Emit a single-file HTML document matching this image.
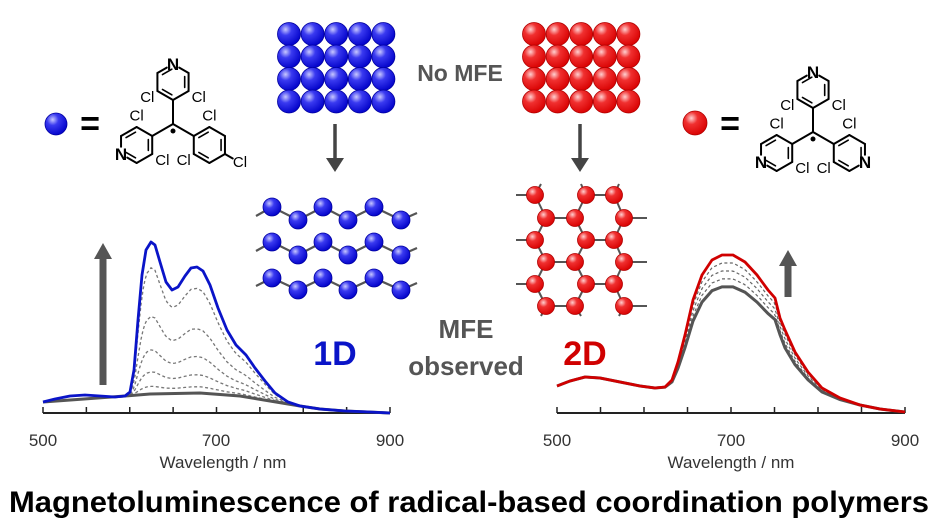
<!DOCTYPE html>
<html><head><meta charset="utf-8"><style>
html,body{margin:0;padding:0;background:#fff;width:939px;height:531px;overflow:hidden}
svg{display:block}
text{font-family:"Liberation Sans",sans-serif}
</style></head><body>
<svg id="s" width="939" height="531" viewBox="0 0 939 531" xmlns="http://www.w3.org/2000/svg">
<defs>
<radialGradient id="gb" cx="0.35" cy="0.3" r="0.75"><stop offset="0" stop-color="#c8c8ff"/><stop offset="0.35" stop-color="#3a3af0"/><stop offset="1" stop-color="#0000c8"/></radialGradient>
<radialGradient id="gr" cx="0.35" cy="0.3" r="0.75"><stop offset="0" stop-color="#ffd0d0"/><stop offset="0.35" stop-color="#f03030"/><stop offset="1" stop-color="#d80000"/></radialGradient>
</defs>
<g id="bg"></g>
<g id="fg"></g>
<text x="460" y="81" font-size="23" font-weight="bold" fill="#555" text-anchor="middle">No MFE</text>
<text x="466" y="338" font-size="26" font-weight="bold" fill="#555" text-anchor="middle">MFE</text>
<text x="466" y="375" font-size="26" font-weight="bold" fill="#555" text-anchor="middle">observed</text>
<text x="335" y="365" font-size="34" font-weight="bold" fill="#0a14c8" text-anchor="middle">1D</text>
<text x="585" y="365" font-size="34" font-weight="bold" fill="#d00000" text-anchor="middle">2D</text>
<text x="90" y="135" font-size="34" font-weight="bold" fill="#000" text-anchor="middle">=</text>
<text x="730" y="135" font-size="34" font-weight="bold" fill="#000" text-anchor="middle">=</text>
<g font-size="17" fill="#333" text-anchor="middle">
<text x="43" y="446">500</text><text x="216" y="446">700</text><text x="390" y="446">900</text>
<text x="223" y="468">Wavelength / nm</text>
<text x="557" y="446">500</text><text x="731" y="446">700</text><text x="905" y="446">900</text>
<text x="731" y="468">Wavelength / nm</text>
</g>
<text x="469" y="512" font-size="30" font-weight="bold" fill="#000" text-anchor="middle" textLength="920" lengthAdjust="spacingAndGlyphs">Magnetoluminescence of radical-based coordination polymers</text>
</svg>
<script>
(function(){
var NS="http://www.w3.org/2000/svg";
var bg=document.getElementById('bg'),fg=document.getElementById('fg');
function el(p,t,a,txt){var e=document.createElementNS(NS,t);for(var k in a)e.setAttribute(k,a[k]);if(txt)e.textContent=txt;p.appendChild(e);return e;}
function ball(x,y,r,c){el(fg,'circle',{cx:x,cy:y,r:r,fill:'url(#g'+c+')',stroke:c=='b'?'#0000a0':'#b00000','stroke-width':0.8});}
function line(x1,y1,x2,y2,w,c){el(bg,'line',{x1:x1,y1:y1,x2:x2,y2:y2,stroke:c||'#555','stroke-width':w||2});}
var rows=[34,56.5,79,101.5];
for(var i=0;i<5;i++)for(var j=0;j<4;j++){ball(289+i*23.6,rows[j],11.5,'b');ball(534+i*23.6,rows[j],11.5,'r');}
ball(56,124,11,'b');ball(695,123,12,'r');
function darrow(x,y1,y2){line(x,y1,x,y2-10,3.5,'#444');el(fg,'polygon',{points:(x-9)+','+(y2-14)+' '+(x+9)+','+(y2-14)+' '+x+','+y2,fill:'#444'});}
darrow(335,124,172);darrow(580,124,172);
function uarrow(x,y1,y2,hw){el(fg,'rect',{x:x-3.5,y:y2+15,width:7,height:y1-y2-15,fill:'#555'});el(fg,'polygon',{points:(x-hw)+','+(y2+16)+' '+(x+hw)+','+(y2+16)+' '+x+','+y2,fill:'#555'});}
uarrow(103,385,243,9);uarrow(788,297,250,9);
var xs=[272,298,323,348,374,401];
[[207,220],[242,255],[278,290]].forEach(function(r){
 var pts=[[256,r[1]-4]];xs.forEach(function(x,k){pts.push([x,k%2?r[1]:r[0]]);});pts.push([417,r[1]-7]);
 el(bg,'polyline',{points:pts.map(function(p){return p.join(',')}).join(' '),fill:'none',stroke:'#555','stroke-width':2.2});
 xs.forEach(function(x,k){ball(x,k%2?r[1]:r[0],9,'b');});
});
var A=[535,586,614],B=[546,575,624],ry=[195,218,240,262,284,306];
for(var k=0;k<6;k++){var odd=k%2==0;var X=odd?A:B;
 if(odd){line(516,ry[k],535,ry[k]);line(586,ry[k],614,ry[k]);} else {line(546,ry[k],575,ry[k]);line(624,ry[k],647,ry[k]);}
 if(k<5){var Y=odd?B:A;for(var m=0;m<3;m++)line(X[m],ry[k],Y[m],ry[k+1]);}
}
line(535,195,541,184);line(586,195,581,184);line(614,195,619,184);
line(546,306,541,316);line(575,306,581,316);line(624,306,619,316);
for(var k=0;k<6;k++){var X=k%2==0?A:B;X.forEach(function(x){ball(x,ry[k],8.5,'r');});}
function axis(x0,x1,y){line(x0,y,x1,y,2,'#222');for(var t=0;t<=8;t++){var x=x0+(x1-x0)*t/8;line(x,y,x,y-6,1.5,'#222');}}
axis(43,390,413);axis(557,905,413);
function interp(P,x){for(var i=0;i<P.length-1;i++){if(x>=P[i][0]&&x<=P[i+1][0]){var t=(x-P[i][0])/(P[i+1][0]-P[i][0]);return P[i][1]+t*(P[i+1][1]-P[i][1]);}}return P[P.length-1][1];}
function path(P){return 'M'+P.map(function(p){return p[0].toFixed(1)+','+p[1].toFixed(1)}).join(' L');}
var blue=[[43,402],[55,399],[70,396],[85,395],[100,396],[115,397],[125,396],[130,392],[134,370],[138,320],[142,275],[146,250],[151,242],[155,245],[160,262],[166,282],[172,290],[178,287],[185,276],[191,268],[197,267],[203,271],[210,285],[218,308],[227,330],[236,345],[246,355],[255,368],[265,381],[275,393],[288,402],[300,406],[320,409],[345,411],[370,412],[390,413]];
var base1=[[43,402],[125,396],[150,394],[200,393],[240,396],[270,401],[300,406],[320,409],[345,411],[390,413]];
[0.05,0.145,0.29,0.51,0.83].forEach(function(f){var P=[];for(var x=125;x<=345;x+=2){var b=interp(base1,x),u=interp(blue,x);P.push([x,b+f*(u-b)]);}
 el(bg,'path',{d:path(P),fill:'none',stroke:'#777','stroke-width':1.3,'stroke-dasharray':'3,2.5'});});
el(bg,'path',{d:path(base1),fill:'none',stroke:'#555','stroke-width':3});
el(bg,'path',{d:path(blue),fill:'none',stroke:'#0a14c8','stroke-width':2.8,'stroke-linejoin':'round'});
var red=[[557,386],[570,381],[585,377],[600,378],[620,382],[640,386],[655,388],[665,387],[672,380],[678,362],[685,335],[693,300],[702,275],[712,260],[722,255],[733,255],[745,262],[757,275],[768,290],[775,298],[780,318],[785,330],[795,352],[808,372],[822,388],[840,398],[860,405],[880,409],[905,412]];
var base2=[];red.forEach(function(p){var y=p[1];if(p[0]>660&&p[0]<860)y=Math.max(y,388+0.76*(y-388)+ (p[0]>780?4:0));base2.push([p[0],Math.min(413,y)]);});
[0.25,0.5,0.75].forEach(function(f){var P=[];for(var x=660;x<=860;x+=2){var b=interp(base2,x),u=interp(red,x);P.push([x,b+f*(u-b)]);}
 el(bg,'path',{d:path(P),fill:'none',stroke:'#666','stroke-width':1.2,'stroke-dasharray':'3,2.5'});});
el(bg,'path',{d:path(base2),fill:'none',stroke:'#555','stroke-width':3});
el(bg,'path',{d:path(red),fill:'none',stroke:'#d00000','stroke-width':2.8,'stroke-linejoin':'round'});
function mol(cx,cy,types){
 var g=el(fg,'g',{});
 var BL=24,RR=18;
 function L(x1,y1,x2,y2,w){el(g,'line',{x1:x1,y1:y1,x2:x2,y2:y2,stroke:'#000','stroke-width':w||2,'stroke-linecap':'round'});}
 function T(x,y,s){el(g,'text',{x:x,y:y+5,'font-size':15,'text-anchor':'middle',fill:'#000'},s);}
 el(g,'circle',{cx:cx,cy:cy+7,r:2.5,fill:'#000'});
 [-90,150,30].forEach(function(d,idx){
  var r=Math.PI/180,dx=Math.cos(d*r),dy=Math.sin(d*r);
  var ix=cx+BL*dx,iy=cy+BL*dy; L(cx,cy,ix,iy);
  var rcx=cx+(BL+RR)*dx,rcy=cy+(BL+RR)*dy,V=[];
  for(var k=0;k<6;k++){var a=(d+180+k*60)*r;V.push([rcx+RR*Math.cos(a),rcy+RR*Math.sin(a)]);}
  for(var k=0;k<6;k++){var p=V[k],q=V[(k+1)%6];
   if(types[idx]=='N'&&(k==2||k==3)){
     if(k==2){L(p[0],p[1],p[0]+(q[0]-p[0])*0.6,p[1]+(q[1]-p[1])*0.6);}else{L(p[0]+(q[0]-p[0])*0.4,p[1]+(q[1]-p[1])*0.4,q[0],q[1]);}
   } else L(p[0],p[1],q[0],q[1]);
  }
  [[0,1],[2,3],[4,5]].forEach(function(e){var p=V[e[0]],q=V[e[1]];var mx=(p[0]+q[0])/2,my=(p[1]+q[1])/2;var ox=(rcx-mx)*0.25,oy=(rcy-my)*0.25;
   L(p[0]+(q[0]-p[0])*0.2+ox,p[1]+(q[1]-p[1])*0.2+oy,p[0]+(q[0]-p[0])*0.8+ox,p[1]+(q[1]-p[1])*0.8+oy,1.6);});
  if(types[idx]=='N'){el(g,'text',{x:V[3][0],y:V[3][1]+6,'font-size':17,'font-weight':'bold','text-anchor':'middle',fill:'#000'},'N');}
  else {var px=V[3][0]+9*dx,py=V[3][1]+9*dy;L(V[3][0],V[3][1],px,py);T(px+6*dx+2,py+7*dy,'Cl');}
  [1,5].forEach(function(k){var vx=V[k][0]-rcx,vy=V[k][1]-rcy;T(V[k][0]+vx*0.65,V[k][1]+vy*0.65,'Cl');});
 });
}
mol(173,124,['N','N','P']);
mol(813,132,['N','N','N']);
})();
</script>
</body></html>
